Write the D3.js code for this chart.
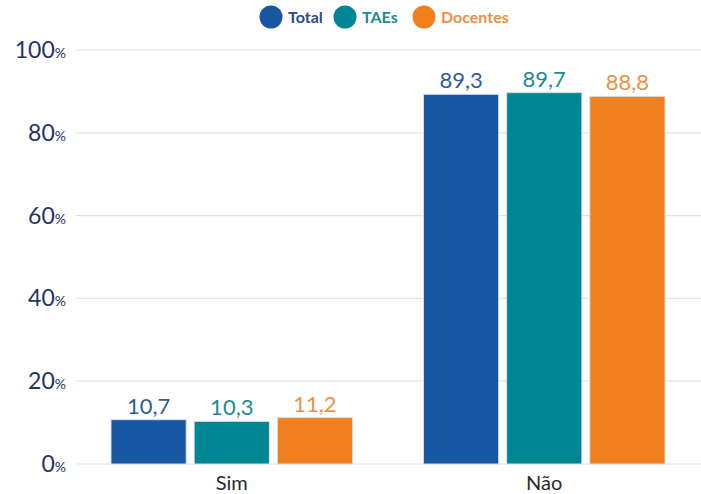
<!DOCTYPE html>
<html>
<head>
<meta charset="utf-8">
<script src="https://cdn.jsdelivr.net/npm/d3@7"></script>
<style>
  html, body { margin: 0; padding: 0; background: #fff; }
  svg { display: block; font-family: Lato, "Open Sans", sans-serif; }
</style>
</head>
<body>
<svg id="chart" width="701" height="494"></svg>
<script>
// Answers grouped by option, one value per group of respondents
const categories = ["Sim", "Não"];
const seriesNames = ["Total", "TAEs", "Docentes"];
const totalValues = [10.7, 89.3];
const taeValues = [10.3, 89.7];
const docenteValues = [11.2, 88.8];
const yTicks = [0, 20, 40, 60, 80, 100];

const barColors = ["#1656a3", "#008592", "#f07f1e"];
const labelColors = ["#2f5c9c", "#1c8a8e", "#ea9148"];
const legendText = ["#2a4b8c", "#1c8a8e", "#ea9148"];

const seriesValues = [totalValues, taeValues, docenteValues];
const rows = categories.map((c, i) => ({
  category: c,
  values: seriesNames.map((s, j) => ({ series: s, idx: j, value: seriesValues[j][i] }))
}));

const svg = d3.select("#chart");
const W = 701;
const plotLeft = 76, plotRight = 700, plotBottom = 464, plotTop = 50;

const x0 = d3.scaleBand()
  .domain(categories)
  .range([plotLeft, plotRight])
  .paddingInner(0.227)
  .paddingOuter(0.112);

const x1 = d3.scaleBand()
  .domain(seriesNames)
  .range([0, x0.bandwidth()])
  .paddingInner(0.096);

const y = d3.scaleLinear()
  .domain([0, 100])
  .range([plotBottom, plotTop]);

// Gridlines
svg.append("g")
  .selectAll("line")
  .data(yTicks)
  .join("line")
  .attr("x1", plotLeft)
  .attr("x2", W)
  .attr("y1", d => y(d))
  .attr("y2", d => y(d))
  .attr("stroke", "#e3e3e3")
  .attr("stroke-width", 1.2);

// Y axis labels with a smaller percent sign
const yLab = svg.append("g")
  .selectAll("text")
  .data(yTicks)
  .join("text")
  .attr("x", 66)
  .attr("y", d => y(d) + 8)
  .attr("text-anchor", "end")
  .attr("fill", "#1f3566");
yLab.append("tspan").attr("font-size", 23).text(d => d);
yLab.append("tspan").attr("font-size", 14).text("%");

// Bars
const groups = svg.append("g")
  .selectAll("g")
  .data(rows)
  .join("g")
  .attr("transform", d => `translate(${x0(d.category)},0)`);

groups.selectAll("rect")
  .data(d => d.values)
  .join("rect")
  .attr("x", d => x1(d.series))
  .attr("width", x1.bandwidth())
  .attr("y", d => y(d.value))
  .attr("height", d => y(0) - y(d.value))
  .attr("fill", d => barColors[d.idx])
  .attr("stroke", "#d9dde3")
  .attr("stroke-width", 1);

groups.selectAll("text")
  .data(d => d.values)
  .join("text")
  .attr("x", d => x1(d.series) + x1.bandwidth() / 2)
  .attr("y", d => y(d.value) - 6)
  .attr("text-anchor", "middle")
  .attr("font-size", 22)
  .attr("fill", d => labelColors[d.idx])
  .text(d => d3.format(".1f")(d.value).replace(".", ","));

// Category labels
svg.append("g")
  .selectAll("text")
  .data(categories)
  .join("text")
  .attr("x", d => x0(d) + x0.bandwidth() / 2)
  .attr("y", 490)
  .attr("text-anchor", "middle")
  .attr("font-size", 20)
  .attr("fill", "#2a2a2a")
  .text(d => d);

// Legend
const legendX = [271, 345, 424];
const legend = svg.append("g")
  .selectAll("g")
  .data(seriesNames)
  .join("g")
  .attr("transform", (d, i) => `translate(${legendX[i]},17)`);
legend.append("circle")
  .attr("r", 11.5)
  .attr("fill", (d, i) => barColors[i]);
legend.append("text")
  .attr("x", 17)
  .attr("y", 5.5)
  .attr("font-size", 16)
  .attr("font-weight", 700)
  .attr("fill", (d, i) => legendText[i])
  .text(d => d);
</script>
</body>
</html>
